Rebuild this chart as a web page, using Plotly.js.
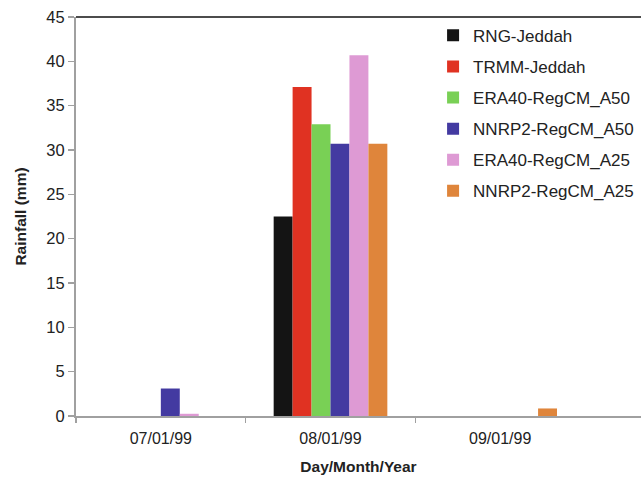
<!DOCTYPE html>
<html>
<head>
<meta charset="utf-8">
<script src="https://cdn.plot.ly/plotly-3.0.1.min.js"></script>
<style>html,body{margin:0;padding:0;background:#fff;}#chart{width:641px;height:478px;}</style>
</head>
<body>
<div id="chart"></div>
<script>
const categories = ["07/01/99", "08/01/99", "09/01/99"];
const seriesNames = ["RNG-Jeddah", "TRMM-Jeddah", "ERA40-RegCM_A50", "NNRP2-RegCM_A50", "ERA40-RegCM_A25", "NNRP2-RegCM_A25"];
const rngJeddah = [0, 22.5, 0];
const trmmJeddah = [0, 37.1, 0];
const era40A50 = [0, 32.9, 0];
const nnrp2A50 = [3.1, 30.7, 0];
const era40A25 = [0.25, 40.7, 0];
const nnrp2A25 = [0, 30.7, 0.85];
const seriesColors = ["#141414", "#e03222", "#79d055", "#433aa1", "#de9ad4", "#df853b"];
const boundaryTicks = [-0.5, 0.5, 1.5];

const allValues = [rngJeddah, trmmJeddah, era40A50, nnrp2A50, era40A25, nnrp2A25];
const traces = allValues.map((vals, i) => ({
  type: "bar",
  name: seriesNames[i],
  x: categories,
  y: vals,
  legendgroup: "g" + i,
  marker: {color: seriesColors[i], line: {width: 0}}
}));
// helper axis for boundary ticks
traces.push({
  type: "scatter", x: [0], y: [0], xaxis: "x2", mode: "markers",
  marker: {opacity: 0}, showlegend: false, hoverinfo: "skip"
});

const xr = [-0.5, 2.83];
const titleFont = {size: 15.5, color: "#222", family: "Liberation Sans, Arial, sans-serif", weight: "bold"};
const layout = {
  width: 641, height: 478,
  margin: {l: 76, r: 0, t: 17, b: 62},
  paper_bgcolor: "#fff", plot_bgcolor: "#fff",
  font: {family: "Liberation Sans, Arial, sans-serif", color: "#222"},
  barmode: "group",
  bargap: 0.33,
  bargroupgap: 0,
  showlegend: true,
  legend: {
    x: 0.632, y: 0.998, xanchor: "left", yanchor: "top",
    font: {size: 17, color: "#222"},
    bgcolor: "rgba(0,0,0,0)",
    traceorder: "grouped",
    tracegroupgap: 6,
    itemwidth: 30
  },
  xaxis: {
    type: "category",
    range: xr,
    showline: true, linecolor: "#a0a0a0", linewidth: 2,
    ticks: "",
    ticklabelstandoff: 7,
    showgrid: false, zeroline: false,
    tickfont: {size: 16, color: "#222"},
    title: {text: "Day/Month/Year", font: titleFont, standoff: 15}
  },
  xaxis2: {
    overlaying: "x", range: xr, tickvals: boundaryTicks,
    showticklabels: false, ticks: "outside", ticklen: 6, tickcolor: "#a0a0a0", tickwidth: 1.5,
    showgrid: false, zeroline: false, showline: false, side: "bottom", anchor: "y"
  },
  yaxis: {
    range: [0, 45],
    dtick: 5,
    showline: true, linecolor: "#a0a0a0", linewidth: 2,
    ticks: "outside", ticklen: 6, tickcolor: "#a0a0a0", tickwidth: 1.5,
    showgrid: false, zeroline: false,
    tickfont: {size: 16.5, color: "#222"},
    title: {text: "Rainfall (mm)", font: titleFont, standoff: 16}
  },
  shapes: [{
    type: "line", xref: "paper", yref: "paper", x0: 0, x1: 1, y0: 1, y1: 1,
    line: {color: "#111", width: 1.5}
  }]
};
Plotly.newPlot("chart", traces, layout, {staticPlot: true, displayModeBar: false});
</script>
</body>
</html>
